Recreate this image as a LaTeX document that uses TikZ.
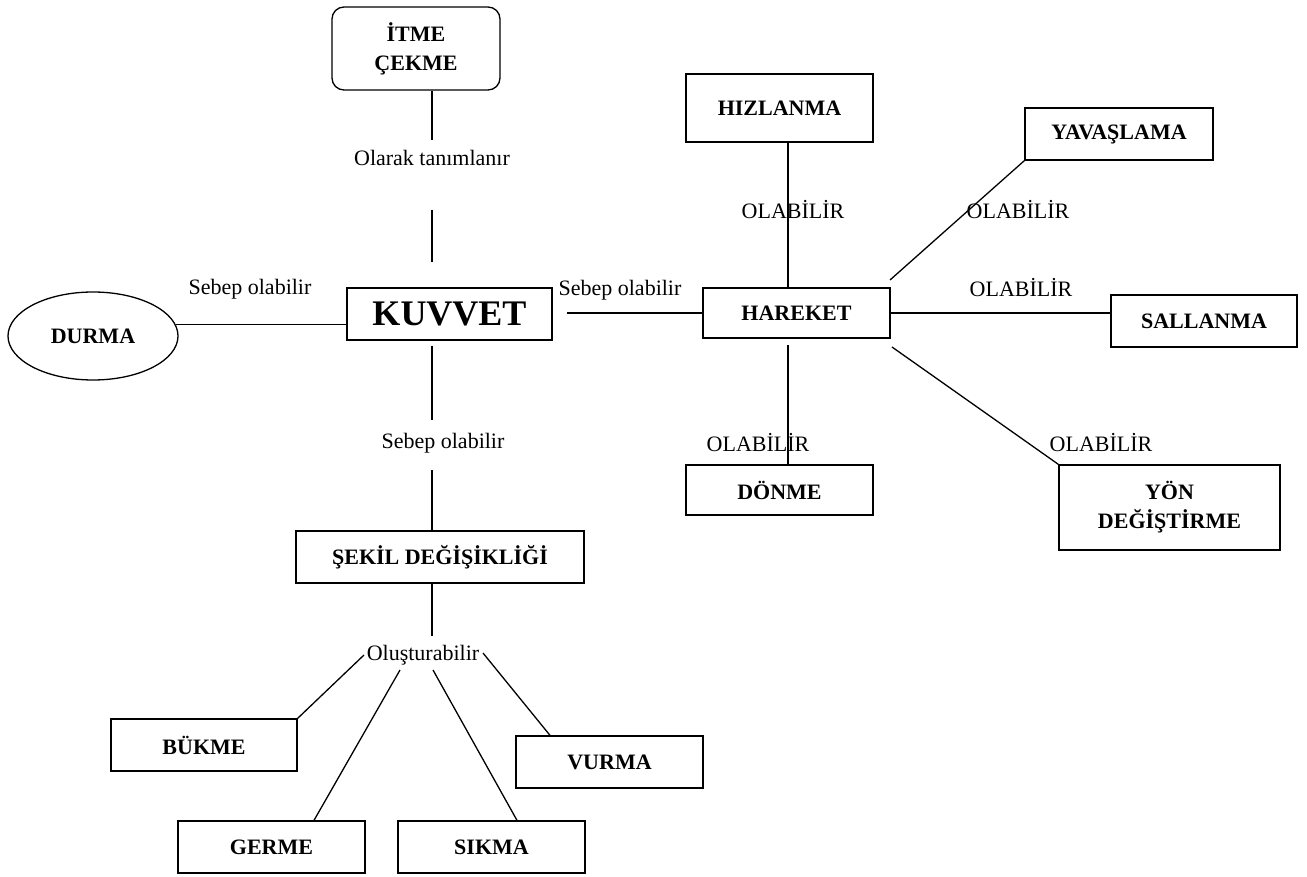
\documentclass[tikz,border=0pt]{standalone}
\usepackage{fontspec}
\setmainfont{Liberation Serif}
\usetikzlibrary{shapes.geometric}
\tikzset{
  kutu/.style={draw, line width=1.3pt, inner sep=0pt, align=center,
    font=\bfseries\fontsize{22}{29}\selectfont},
  etiket/.style={inner sep=1pt, font=\fontsize{22}{26}\selectfont},
  bag/.style={line width=1.3pt}
}
\begin{document}
\begin{tikzpicture}[x=1pt, y=-1pt]
\useasboundingbox (0,0) rectangle (1307,877);

% kavramlar
\node[kutu, rounded corners=12, minimum width=168, minimum height=83] (itme) at (416,48.5) {İTME\\ÇEKME};
\node[kutu, minimum width=205, minimum height=52, font=\bfseries\fontsize{36}{40}\selectfont] (kuvvet) at (449.5,314) {KUVVET};
\node[kutu, ellipse, minimum width=170, minimum height=88] (durma) at (93,336) {DURMA};
\node[kutu, minimum width=288, minimum height=52] (sekil) at (440,557) {ŞEKİL DEĞİŞİKLİĞİ};
\node[kutu, minimum width=186, minimum height=52] (bukme) at (204,745) {BÜKME};
\node[kutu, minimum width=187, minimum height=52] (germe) at (271.5,847) {GERME};
\node[kutu, minimum width=187, minimum height=52] (sikma) at (491.5,847) {SIKMA};
\node[kutu, minimum width=187, minimum height=52] (vurma) at (609.5,762) {VURMA};
\node[kutu, minimum width=187, minimum height=50] (hareket) at (796.5,313) {HAREKET};
\node[kutu, minimum width=187, minimum height=68] (hizlanma) at (779.5,108) {HIZLANMA};
\node[kutu, minimum width=188, minimum height=52] (yavaslama) at (1119,134) {YAVAŞLAMA};
\node[kutu, minimum width=186, minimum height=52] (sallanma) at (1204,321) {SALLANMA};
\node[kutu, minimum width=187, minimum height=50] (donme) at (779.5,490) {DÖNME};
\node[kutu, minimum width=221, minimum height=85] (yon) at (1169.5,507.5) {YÖN\\DEĞİŞTİRME};

% yardimci noktalar
\coordinate (kol) at (432,0);
\coordinate (hk) at (788,0);
\coordinate (k0) at (567,0);
\coordinate (k1) at (432,140);
\coordinate (k2) at (432,210);
\coordinate (k3) at (432,262);
\coordinate (k4) at (432,346);
\coordinate (k5) at (432,420);
\coordinate (k6) at (432,470);
\coordinate (k7) at (432,636);
\coordinate (o1) at (364,655);
\coordinate (o2) at (400,670);
\coordinate (o3) at (433,670);
\coordinate (o4) at (483,653);
\coordinate (h1) at (890,280);
\coordinate (h2) at (788,345);
\coordinate (h3) at (892,347);

% baglantilar
\draw[bag] (itme.south -| kol) -- (k1);
\draw[bag] (k2) -- (k3);
\node[etiket] (olarak) at (432,158) {Olarak tanımlanır};

\draw[bag] (durma.8) -- (kuvvet.west |- durma.8);
\node[etiket] (sebep1) at (250,289) {Sebep olabilir};

\draw[bag] (k4) -- (k5);
\draw[bag] (k6) -- (sekil.north -| kol);
\node[etiket] (sebep2) at (443,443) {Sebep olabilir};

\draw[bag] (hareket.west -| k0) -- (hareket.west);
\node[etiket] (sebep3) at (620,290) {Sebep olabilir};

\draw[bag] (sekil.south -| kol) -- (k7);
\node[etiket] (olus) at (423,655) {Oluşturabilir};
\draw[bag] (bukme.north east) -- (o1);
\draw[bag] ([xshift=42.5]germe.north) -- (o2);
\draw[bag] ([xshift=25.5]sikma.north) -- (o3);
\draw[bag] ([xshift=-59.5]vurma.north) -- (o4);

\draw[bag] (hizlanma.south -| hk) -- (hareket.north -| hk);
\node[etiket] (ol1) at (793,210) {OLABİLİR};
\draw[bag] (yavaslama.south west) -- (h1);
\node[etiket] (ol2) at (1018,210) {OLABİLİR};
\draw[bag] (hareket.east) -- (sallanma.west |- hareket.east);
\node[etiket] (ol3) at (1021,288) {OLABİLİR};
\draw[bag] (h2) -- (donme.north -| hk);
\node[etiket] (ol4) at (758,443) {OLABİLİR};
\draw[bag] (h3) -- (yon.north west);
\node[etiket] (ol5) at (1101,443) {OLABİLİR};
\end{tikzpicture}
\end{document}
